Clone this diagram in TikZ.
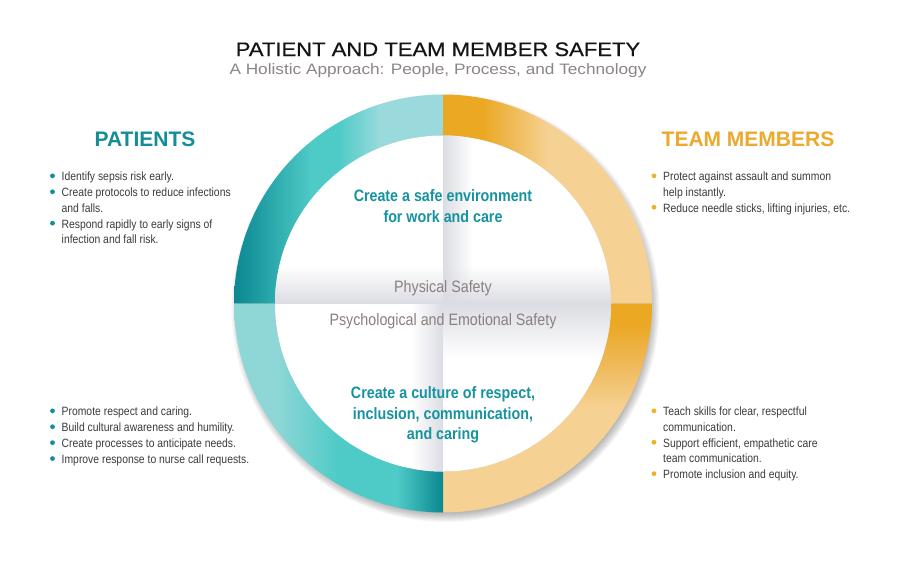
\documentclass[tikz,border=0pt]{standalone}
\usepackage{fontspec}
\setmainfont{Liberation Sans}
\newfontfamily\condfont[FakeStretch=0.865]{Liberation Sans}
\newfontfamily\widefont[FakeStretch=1.14]{Liberation Sans}
\newfontfamily\titlefont[FakeStretch=1.13, FakeBold=0.6]{Liberation Sans}
\usetikzlibrary{positioning,fadings}

\definecolor{tealdark}{HTML}{0A8790}
\definecolor{tealmid}{HTML}{4ECBC7}
\definecolor{teallight}{HTML}{9BDADC}
\definecolor{tealpale}{HTML}{8FD7D7}
\definecolor{orangedeep}{HTML}{EBA823}
\definecolor{orangemid}{HTML}{EFB95A}
\definecolor{orangepale}{HTML}{F5D193}
\definecolor{headteal}{HTML}{138E99}
\definecolor{headorange}{HTML}{ECA92C}
\definecolor{goalteal}{HTML}{1693A0}
\definecolor{bodytext}{HTML}{3B3B3B}
\definecolor{softgray}{HTML}{8A807D}
\definecolor{subgray}{HTML}{8C8583}
\definecolor{discgray}{HTML}{DCDDE3}

\pgfdeclarehorizontalshading{ringnw}{100bp}{color(0bp)=(tealdark); color(25bp)=(tealdark); color(43.5bp)=(tealmid); color(50bp)=(tealmid); color(60bp)=(teallight); color(75bp)=(teallight); color(100bp)=(teallight)}
\pgfdeclarehorizontalshading{ringsw}{100bp}{color(0bp)=(tealpale); color(25bp)=(tealpale); color(35bp)=(tealpale); color(50bp)=(tealmid); color(64bp)=(tealmid); color(75bp)=(tealdark); color(100bp)=(tealdark)}
\pgfdeclarehorizontalshading{ringne}{100bp}{color(0bp)=(orangedeep); color(25bp)=(orangedeep); color(34.5bp)=(orangedeep); color(50bp)=(orangepale); color(75bp)=(orangepale); color(100bp)=(orangepale)}
\pgfdeclareverticalshading{ringse}{100bp}{color(0bp)=(orangepale); color(25bp)=(orangepale); color(50bp)=(orangepale); color(60.5bp)=(orangemid); color(70bp)=(orangedeep); color(75bp)=(orangedeep); color(100bp)=(orangedeep)}

\tikzfading[name=fadeup, top color=transparent!100, bottom color=transparent!0]
\tikzfading[name=fadedown, top color=transparent!0, bottom color=transparent!100]
\tikzfading[name=faderight, left color=transparent!0, right color=transparent!100]
\tikzfading[name=fadeleft, left color=transparent!100, right color=transparent!0]

\newcommand{\itm}[1]{\strut#1\strut}

\begin{document}
\begin{tikzpicture}[x=1pt,y=-1pt,
    heading/.style={font=\bfseries\fontsize{21}{25}\selectfont, anchor=base},
    bullettext/.style={font=\condfont\fontsize{12}{15.5}\selectfont, text=bodytext, align=left, inner sep=0pt},
    goal/.style={font=\condfont\bfseries\fontsize{16.5}{20.5}\selectfont, text=goalteal, align=center, inner sep=0pt, anchor=north},
    layer/.style={font=\condfont\fontsize{16.5}{20}\selectfont, text=softgray, anchor=base, inner sep=0pt}]
  \fill[white] (0,0) rectangle (900,584);
  \useasboundingbox (0,0) rectangle (900,584);

  % title
  \node[anchor=base, font=\titlefont\fontsize{19.5}{23}\selectfont, text=black!92] (title) at (438,56) {PATIENT AND TEAM MEMBER SAFETY};
  \node[anchor=base, font=\widefont\fontsize{15.1}{18}\selectfont, text=subgray] (subtitle) at (438,74.3) {A Holistic Approach: People, Process, and Technology};

  % wheel
  \coordinate (c) at (443,303.5);
  \foreach \k in {0,...,9}
    \fill[black, opacity=0.032] ([xshift=2.5pt,yshift=-4.5pt]c) circle ({214-\k});
  \shade[shading=ringnw] (c) ++(180:209) arc[start angle=180, end angle=270, radius=209] -- ++(0,41) arc[start angle=270, end angle=180, radius=168] -- cycle;
  \shade[shading=ringne] (c) ++(270:209) arc[start angle=270, end angle=360, radius=209] -- ++(-41,0) arc[start angle=360, end angle=270, radius=168] -- cycle;
  \shade[shading=ringse] (c) ++(0:209) arc[start angle=0, end angle=90, radius=209] -- ++(0,-41) arc[start angle=90, end angle=0, radius=168] -- cycle;
  \shade[shading=ringsw] (c) ++(90:209) arc[start angle=90, end angle=180, radius=209] -- ++(41,0) arc[start angle=180, end angle=90, radius=168] -- cycle;
  \fill[white] (c) circle (168);
  \begin{scope}
    \clip (c) circle (168);
    \fill[discgray, path fading=fadeup] (275,266) rectangle (443,303.5);
    \fill[discgray, path fading=fadeup] (443,266) rectangle (612,303.5);
    \fill[discgray, path fading=faderight] (443,135) rectangle (472,303.5);
    \fill[discgray, path fading=fadeleft] (412,303.5) rectangle (443,472);
    \fill[discgray, path fading=fadedown] (443,303.5) rectangle (612,358);
  \end{scope}

  % wheel texts
  \node[goal] (safeenv) at (443,187.15) {\strut Create a safe environment\\for work and care};
  \node[layer] (physical) at (443,292.7) {Physical Safety};
  \node[layer] (psych) at (443,325.7) {Psychological and Emotional Safety};
  \node[goal] (culture) at (443,384.15) {\strut Create a culture of respect,\\inclusion, communication,\\and caring};

  % patients
  \node[heading, text=headteal] (patients) at (145,146) {PATIENTS};
  \node[bullettext, anchor=north west] (p1) at (61.5,169.65) {\itm{Identify sepsis risk early.}};
  \node[bullettext, below right=0pt of p1.south west] (p2) {\itm{Create protocols to reduce infections\\and falls.}};
  \node[bullettext, below right=0pt of p2.south west] (p3) {\itm{Respond rapidly to early signs of\\infection and fall risk.}};
  \node[bullettext, anchor=north west] (p4) at (61.5,404.65) {\itm{Promote respect and caring.}};
  \node[bullettext, below right=0pt of p4.south west] (p5) {\itm{Build cultural awareness and humility.}};
  \node[bullettext, below right=0pt of p5.south west] (p6) {\itm{Create processes to anticipate needs.}};
  \node[bullettext, below right=0pt of p6.south west] (p7) {\itm{Improve response to nurse call requests.}};

  % team members
  \node[heading, text=headorange] (team) at (748,146) {TEAM MEMBERS};
  \node[bullettext, anchor=north west] (t1) at (663,169.65) {\itm{Protect against assault and summon\\help instantly.}};
  \node[bullettext, below right=0pt of t1.south west] (t2) {\itm{Reduce needle sticks, lifting injuries, etc.}};
  \node[bullettext, anchor=north west] (t3) at (663,404.65) {\itm{Teach skills for clear, respectful\\communication.}};
  \node[bullettext, below right=0pt of t3.south west] (t4) {\itm{Support efficient, empathetic care\\team communication.}};
  \node[bullettext, below right=0pt of t4.south west] (t5) {\itm{Promote inclusion and equity.}};

  \foreach \n in {p1,p2,p3,p4,p5,p6,p7}
    \fill[headteal] ([xshift=-9pt,yshift=-6.2pt]\n.north west) circle (2.4);
  \foreach \n in {t1,t2,t3,t4,t5}
    \fill[headorange!90!yellow] ([xshift=-9pt,yshift=-6.2pt]\n.north west) circle (2.4);
\end{tikzpicture}
\end{document}
